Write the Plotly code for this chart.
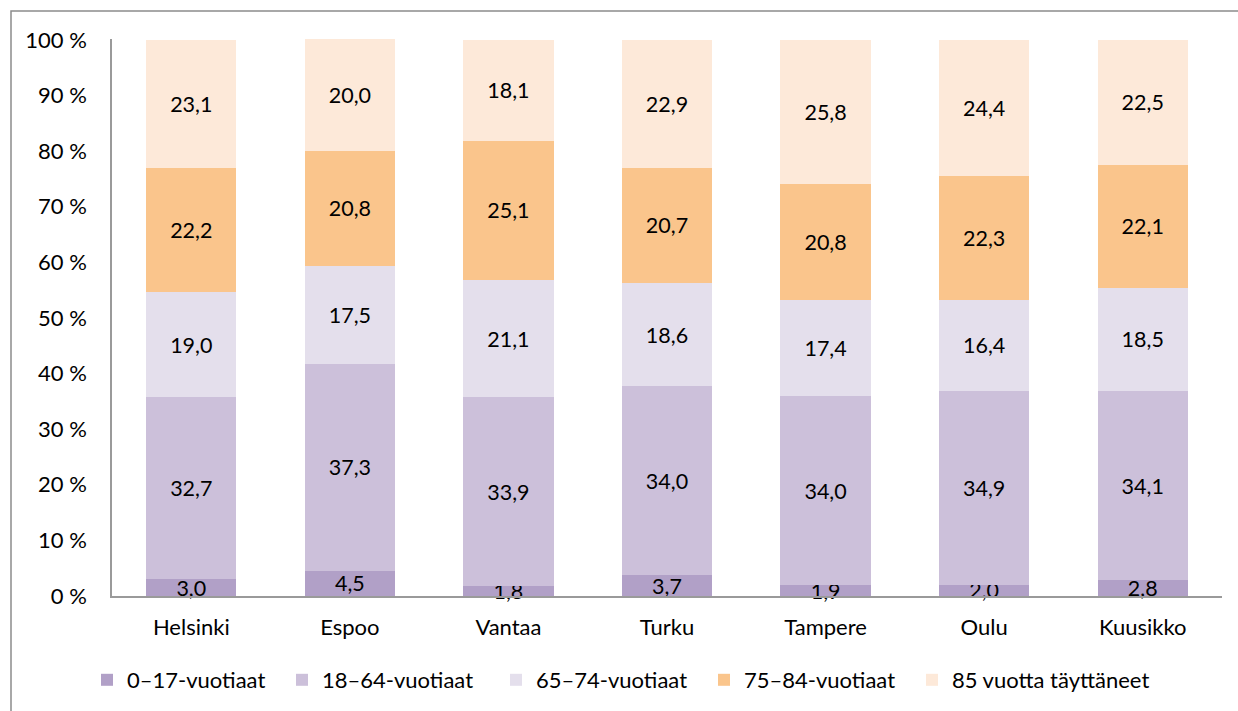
import plotly.graph_objects as go

categories = ["Helsinki", "Espoo", "Vantaa", "Turku", "Tampere", "Oulu", "Kuusikko"]
series_names = ["0–17-vuotiaat", "18–64-vuotiaat", "65–74-vuotiaat", "75–84-vuotiaat", "85 vuotta täyttäneet"]
age_0_17 = [3.0, 4.5, 1.8, 3.7, 1.9, 2.0, 2.8]
age_18_64 = [32.7, 37.3, 33.9, 34.0, 34.0, 34.9, 34.1]
age_65_74 = [19.0, 17.5, 21.1, 18.6, 17.4, 16.4, 18.5]
age_75_84 = [22.2, 20.8, 25.1, 20.7, 20.8, 22.3, 22.1]
age_85 = [23.1, 20.0, 18.1, 22.9, 25.8, 24.4, 22.5]
tick_vals = [0, 10, 20, 30, 40, 50, 60, 70, 80, 90, 100]
tick_text = [f"{v} %" for v in tick_vals]

colors = ["#B1A0C7", "#CCC0DA", "#E4DFEC", "#FAC58C", "#FDE9D9"]
series = [age_0_17, age_18_64, age_65_74, age_75_84, age_85]

FONT = "Lato, 'Open Sans', sans-serif"
FS = 22
FS_LABEL = 21.5

W, H = 1238, 711
L, R, T, B = 112, 16, 39, 115
pw, ph = W - L - R, H - T - B

def px(x):
    return (x - L) / pw

def py(y):
    return (H - B - y) / ph

# legend text starting x positions (pixels) of each entry
legend_text_x = [127, 322, 536, 744, 952]

fig = go.Figure()
for i, (name, vals, col) in enumerate(zip(series_names, series, colors)):
    lg = "legend" if i == 0 else f"legend{i+1}"
    fig.add_trace(go.Bar(
        x=categories, y=vals, name=name,
        marker=dict(color=col, line=dict(width=0)),
        text=[f"{v:.1f}".replace(".", ",") for v in vals],
        textposition="inside", insidetextanchor="middle",
        textfont=dict(family=FONT, size=FS_LABEL, color="#000000"),
        constraintext="none", cliponaxis=False,
        hoverinfo="skip", legend=lg,
    ))

legend_layout = {}
for i, tx in enumerate(legend_text_x):
    key = "legend" if i == 0 else f"legend{i+1}"
    legend_layout[key] = dict(
        orientation="h", x=px(tx - 40), xanchor="left", y=py(680), yanchor="middle",
        font=dict(family=FONT, size=FS, color="#000000"),
        bgcolor="rgba(0,0,0,0)", borderwidth=0, itemwidth=30,
    )

fig.update_layout(
    barmode="stack",
    bargap=0.43,
    width=W, height=H,
    margin=dict(l=L, r=R, t=T, b=B, autoexpand=False),
    paper_bgcolor="white", plot_bgcolor="white",
    font=dict(family=FONT, size=FS, color="#000000"),
    uniformtext=dict(minsize=FS_LABEL, mode="show"),
    showlegend=True,
    xaxis=dict(showline=True, linecolor="#9a9a9a", linewidth=1.5, ticks="",
               showgrid=False, tickfont=dict(family=FONT, size=FS), ticklabelstandoff=11),
    yaxis=dict(range=[0, 100.15], tickvals=tick_vals, ticktext=tick_text, showline=True,
               linecolor="#9a9a9a", linewidth=1.5, ticks="", showgrid=False, zeroline=False,
               tickfont=dict(family=FONT, size=FS), ticklabelstandoff=19),
    shapes=[dict(type="rect", xref="paper", yref="paper",
                 x0=px(11), x1=px(1250), y0=py(11), y1=py(730),
                 line=dict(color="#8c8c8c", width=1.5), fillcolor="rgba(0,0,0,0)", layer="below")],
    **legend_layout,
)

fig.write_html("out.html", config={"displayModeBar": False},
               post_script="document.body.style.margin='0';")
